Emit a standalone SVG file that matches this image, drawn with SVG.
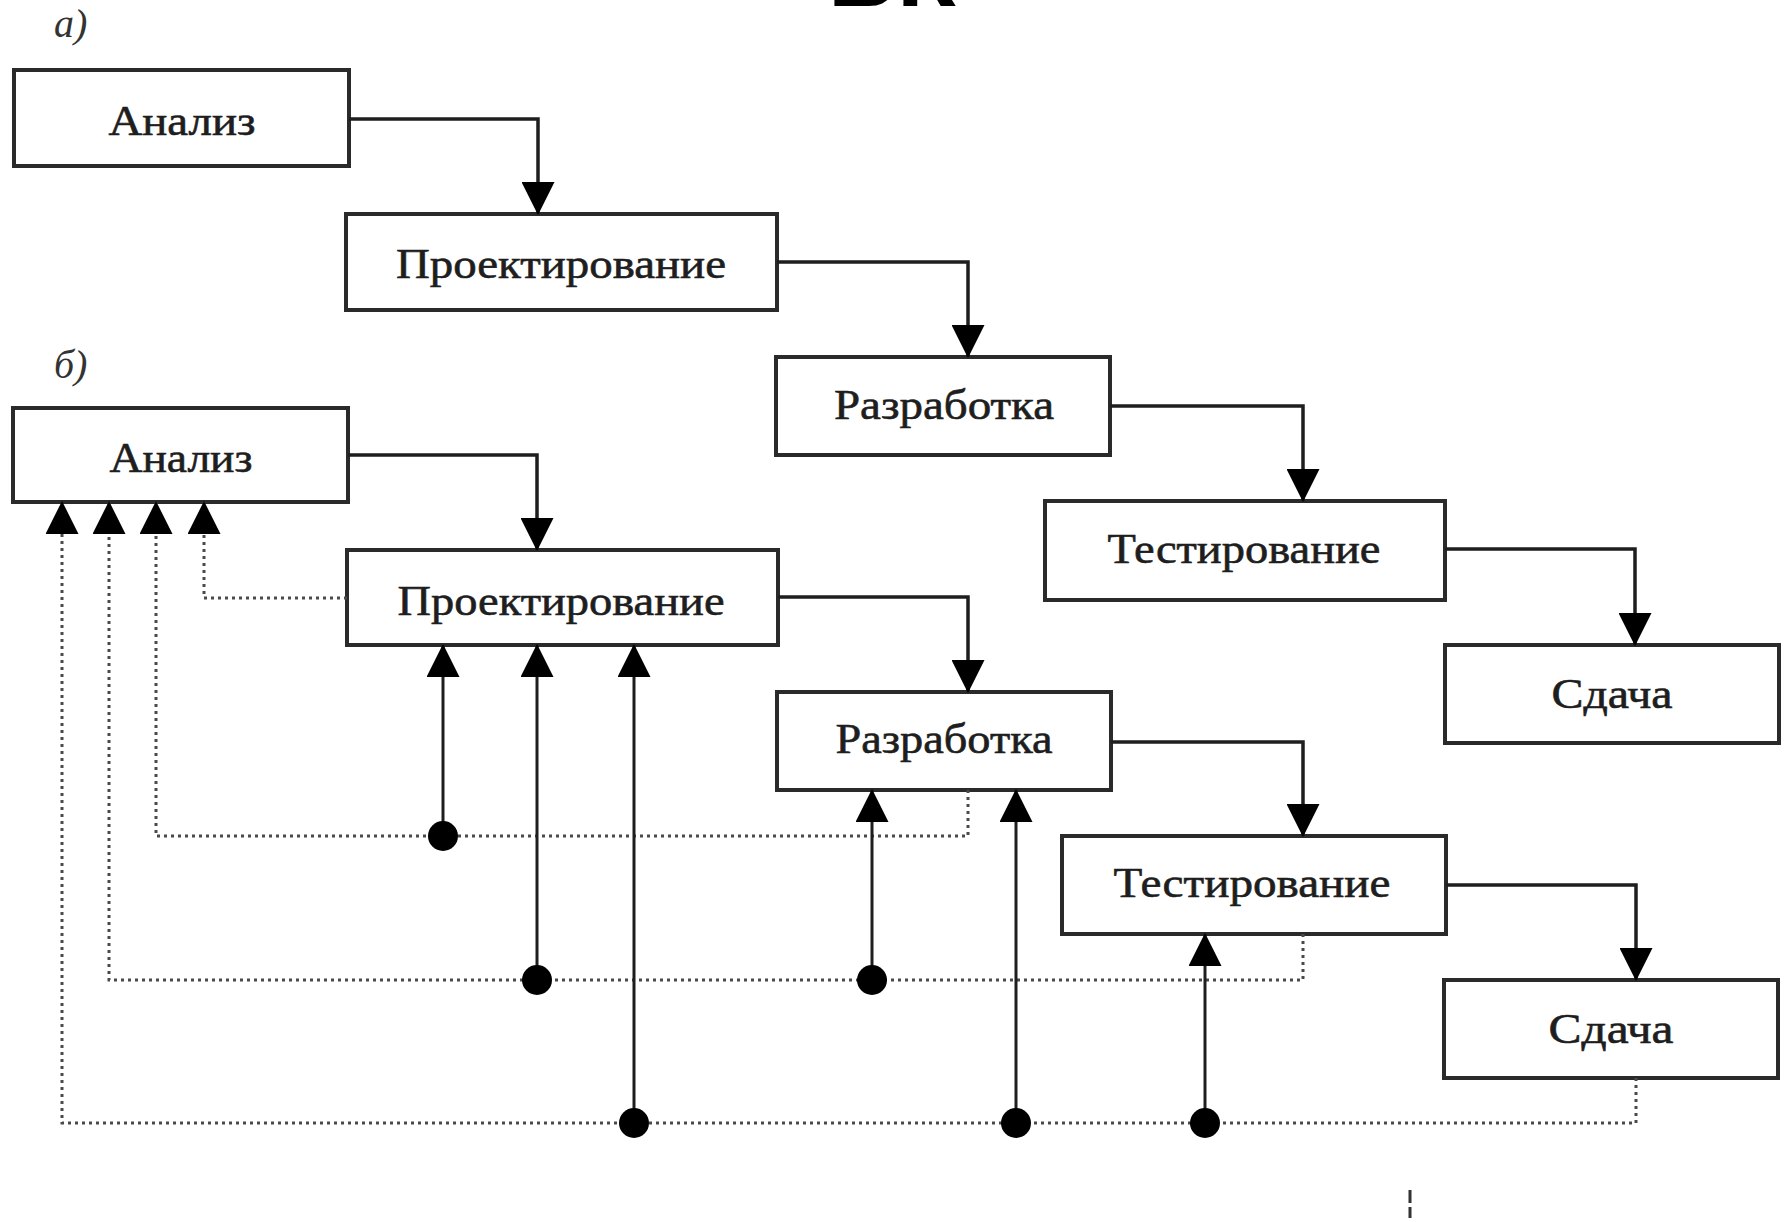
<svg xmlns="http://www.w3.org/2000/svg" width="1791" height="1222" viewBox="0 0 1791 1222">
  <style>
    .box { fill: #ffffff; stroke: #2a2a2a; stroke-width: 4; }
    .lbl { font-family: "Liberation Serif", "Times New Roman", serif; font-size: 42px; fill: #1e1e1e; stroke: #1e1e1e; stroke-width: 0.6; text-anchor: middle; }
    .tag { font-family: "Liberation Serif", "Times New Roman", serif; font-size: 40px; font-style: italic; fill: #333333; }
    .flow { fill: none; stroke: #1e1e1e; stroke-width: 3.5; marker-end: url(#arrow); }
    .feed { fill: none; stroke: #1e1e1e; stroke-width: 3; marker-end: url(#arrow); }
    .backArrow { fill: none; stroke: #4a4a4a; stroke-width: 3; stroke-dasharray: 3 4; marker-end: url(#arrow); }
    .dot { fill: #000000; }
  </style>
  <defs>
    <marker id="arrow" markerUnits="userSpaceOnUse" markerWidth="33" markerHeight="33" viewBox="0 0 32 32" refX="31" refY="16" orient="auto">
      <path d="M0,0 L32,16 L0,32 z" fill="#000000"/>
    </marker>
  </defs>

  <rect width="1791" height="1222" fill="#ffffff"/>

  <!-- heading, cut by the top edge -->
  <text x="828" y="6" font-family="Liberation Sans, Arial, sans-serif" font-weight="bold" font-size="96" fill="#000000">БК</text>

  <!-- variant labels -->
  <text class="tag" x="54" y="37">а)</text>
  <text class="tag" x="54" y="378">б)</text>

  <!-- variant а: sequential chain -->
  <g id="a-analysis">
    <rect class="box" x="14" y="70" width="335" height="96"/>
    <text class="lbl" x="182" y="135" textLength="147" lengthAdjust="spacingAndGlyphs">Анализ</text>
  </g>
  <g id="a-design">
    <rect class="box" x="346" y="214" width="431" height="96"/>
    <text class="lbl" x="561" y="278" textLength="330" lengthAdjust="spacingAndGlyphs">Проектирование</text>
  </g>
  <g id="a-development">
    <rect class="box" x="776" y="357" width="334" height="98"/>
    <text class="lbl" x="944" y="419" textLength="220" lengthAdjust="spacingAndGlyphs">Разработка</text>
  </g>
  <g id="a-testing">
    <rect class="box" x="1045" y="501" width="400" height="99"/>
    <text class="lbl" x="1244" y="563" textLength="273" lengthAdjust="spacingAndGlyphs">Тестирование</text>
  </g>
  <g id="a-delivery">
    <rect class="box" x="1445" y="645" width="334" height="98"/>
    <text class="lbl" x="1612" y="708" textLength="121" lengthAdjust="spacingAndGlyphs">Сдача</text>
  </g>

  <!-- variant б: chain with returns -->
  <g id="b-analysis">
    <rect class="box" x="13" y="408" width="335" height="94"/>
    <text class="lbl" x="181" y="472" textLength="143" lengthAdjust="spacingAndGlyphs">Анализ</text>
  </g>
  <g id="b-design">
    <rect class="box" x="347" y="550" width="431" height="95"/>
    <text class="lbl" x="561" y="615" textLength="327" lengthAdjust="spacingAndGlyphs">Проектирование</text>
  </g>
  <g id="b-development">
    <rect class="box" x="777" y="692" width="334" height="98"/>
    <text class="lbl" x="944" y="753" textLength="217" lengthAdjust="spacingAndGlyphs">Разработка</text>
  </g>
  <g id="b-testing">
    <rect class="box" x="1062" y="836" width="384" height="98"/>
    <text class="lbl" x="1252" y="897" textLength="277" lengthAdjust="spacingAndGlyphs">Тестирование</text>
  </g>
  <g id="b-delivery">
    <rect class="box" x="1444" y="980" width="334" height="98"/>
    <text class="lbl" x="1611" y="1043" textLength="125" lengthAdjust="spacingAndGlyphs">Сдача</text>
  </g>

  <g id="connectors">
    <!-- а: forward steps -->
    <path class="flow" d="M349,119 H538 V214"/>
    <path class="flow" d="M777,262 H968 V357"/>
    <path class="flow" d="M1110,406 H1303 V501"/>
    <path class="flow" d="M1445,549 H1635 V645"/>

    <!-- б: forward steps -->
    <path class="flow" d="M348,455 H537 V550"/>
    <path class="flow" d="M778,597 H968 V692"/>
    <path class="flow" d="M1111,742 H1303 V836"/>
    <path class="flow" d="M1446,885 H1636 V980"/>

    <!-- б: dotted return lines to analysis -->
    <path class="backArrow" d="M347,598 H204 V502"/>
    <path class="backArrow" d="M968,790 V836 H156 V502"/>
    <path class="backArrow" d="M1303,934 V980 H109 V502"/>
    <path class="backArrow" d="M1636,1078 V1123 H62 V502"/>

    <!-- б: returns branching to earlier stages -->
    <path class="feed" d="M443,836 V645"/>
    <path class="feed" d="M537,980 V645"/>
    <path class="feed" d="M634,1123 V645"/>
    <path class="feed" d="M872,980 V790"/>
    <path class="feed" d="M1016,1123 V790"/>
    <path class="feed" d="M1205,1123 V934"/>

    <circle class="dot" cx="443" cy="836" r="15"/>
    <circle class="dot" cx="537" cy="980" r="15"/>
    <circle class="dot" cx="872" cy="980" r="15"/>
    <circle class="dot" cx="634" cy="1123" r="15"/>
    <circle class="dot" cx="1016" cy="1123" r="15"/>
    <circle class="dot" cx="1205" cy="1123" r="15"/>

    <!-- short dashed tick below -->
    <path d="M1410,1190 V1218" fill="none" stroke="#333333" stroke-width="3" stroke-dasharray="13 4"/>
  </g>
</svg>
